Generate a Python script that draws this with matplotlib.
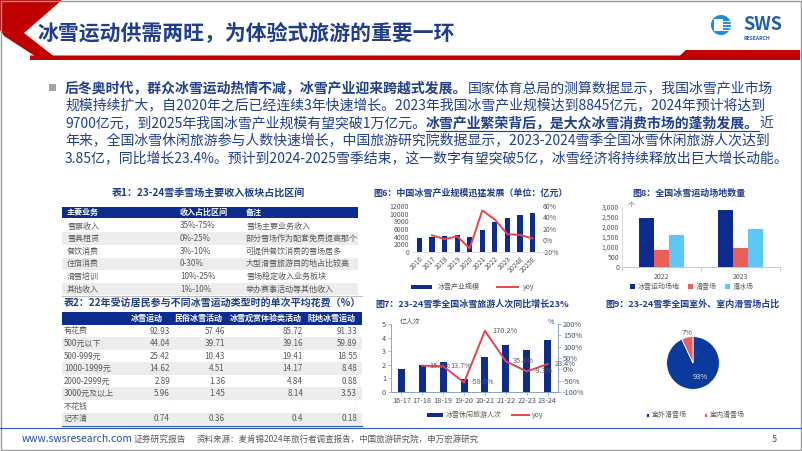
import numpy as np
import matplotlib
matplotlib.use("Agg")
import matplotlib.pyplot as plt
from matplotlib.patches import Rectangle, Polygon, Circle
from matplotlib.ticker import FuncFormatter

plt.rcParams['font.family'] = ['Noto Sans CJK SC', 'DejaVu Sans']

W, H = 802, 451
NAVY = "#0E2C8E"
TITLE_BLUE = "#1F3C8F"
BODY = "#213F8F"
RED = "#C00000"
GRAY = "#595959"
SALMON = "#E8605A"
LIGHTBLUE = "#5CC8F5"
ROWGRAY = "#EDEDED"

# ---- data ----
body_lines = [
    [("后冬奥时代，群众冰雪运动热情不减，冰雪产业迎来跨越式发展。", True, False),
     ("国家体育总局的测算数据显示，我国冰雪产业市场", False, False)],
    [("规模持续扩大，自2020年之后已经连续3年快速增长。2023年我国冰雪产业规模达到8845亿元，2024年预计将达到", False, False)],
    [("9700亿元，到2025年我国冰雪产业规模有望突破1万亿元。", False, False),
     ("冰雪产业繁荣背后，是大众冰雪消费市场的蓬勃发展。", True, True),
     ("近", False, False)],
    [("年来，全国冰雪休闲旅游参与人数快速增长，中国旅游研究院数据显示，2023-2024雪季全国冰雪休闲旅游人次达到", False, False)],
    [("3.85亿，同比增长23.4%。预计到2024-2025雪季结束，这一数字有望突破5亿，冰雪经济将持续释放出巨大增长动能。", False, False)],
]

t1_header = ["主要业务", "收入占比区间", "备注"]
t1_business = ["雪票收入", "雪具租赁", "餐饮消费", "住宿消费", "滑雪培训", "其他收入"]
t1_share = ["35%-75%", "0%-25%", "3%-10%", "0-30%", "10%-25%", "1%-10%"]
t1_note = ["雪场主要业务收入", "部分雪场作为配套免费提高那个", "可提供餐饮消费的雪场居多",
           "大型滑雪旅游目的地占比较高", "雪场稳定收入业务板块", "举办赛事活动等其他收入"]

t2_cols = ["冰雪运动", "民俗冰雪活动", "冰雪观赏体验类活动", "陆地冰雪运动"]
t2_rows = ["有花费", "500元以下", "500-999元", "1000-1999元", "2000-2999元", "3000元及以上", "不花钱", "记不清"]
t2_ice = ["92.93", "44.04", "25.42", "14.62", "2.89", "5.96", "-", "0.74"]
t2_folk = ["57.46", "39.71", "10.43", "4.51", "1.36", "1.45", "-", "0.36"]
t2_view = ["85.72", "39.16", "19.41", "14.17", "4.84", "8.14", "-", "0.4"]
t2_land = ["91.33", "59.89", "18.55", "8.48", "0.88", "3.53", "-", "0.18"]

years6 = ["2016", "2017", "2018", "2019", "2020", "2021", "2022", "2023", "2024E", "2025E"]
scale6 = [3647, 3976, 4050, 4400, 3800, 5788, 7900, 8845, 9700, 10053]
yoy6 = [np.nan, 9.0, 2.5, 7.0, -13.6, 52.3, 36.5, 11.0, 9.7, 3.6]

seasons7 = ["16-17", "17-18", "18-19", "19-20", "20-21", "21-22", "22-23", "23-24"]
visits7 = [1.70, 1.97, 2.24, 0.94, 2.54, 3.44, 3.12, 3.85]
yoy7 = [np.nan, 15.9, 13.7, -58.0, 170.2, 35.4, -9.3, 23.4]

years8 = ["2022", "2023"]
venues8 = [2452, 2847]
ski8 = [870, 930]
skate8 = [1576, 1912]

pie_labels = ["室外滑雪场", "室内滑雪场"]
pie_values = [93, 7]


def box(x0, y0, x1, y1):
    return [x0 / W, 1 - y1 / H, (x1 - x0) / W, (y1 - y0) / H]


fig = plt.figure(figsize=(8.02, 4.51), dpi=100)
bg = fig.add_axes([0, 0, 1, 1])
bg.set_xlim(0, W)
bg.set_ylim(H, 0)
bg.axis('off')
renderer = fig.canvas.get_renderer()

# ---- header ----
bg.add_patch(Polygon([(0, 0), (62, 0), (24, 33), (56, 58), (38, 58), (4, 36), (0, 30)],
                     closed=True, color=RED, lw=0))
bg.add_patch(Polygon([(30, 55.5), (680, 55.5), (686, 50), (800, 50), (800, 60), (30, 60)],
                     closed=True, color=RED, lw=0))
bg.text(37, 33, "冰雪运动供需两旺，为体验式旅游的重要一环", fontsize=15, fontweight='bold',
        color=TITLE_BLUE, va='center', ha='left')
# logo
bg.add_patch(Circle((721, 25), 10, color="#1B8FD6", lw=0))
bg.add_patch(Rectangle((714, 19), 9, 12, color="white", lw=0))
for yy in (21, 24, 27, 30):
    bg.plot([723, 730], [yy, yy], color="white", lw=0.8)
bg.text(743, 25, "SWS", fontsize=13, fontweight='bold', color="#1F5FAD", va='center', ha='left')
bg.text(743, 38, "RESEARCH", fontsize=3.6, fontweight='bold', color="#1F5FAD", va='center', ha='left')

# ---- body text ----
bg.add_patch(Rectangle((49, 84), 7, 7, color="#A6A6A6", lw=0))
line_y = [88, 105.5, 123, 140.5, 158]
for segs, y in zip(body_lines, line_y):
    x = 65
    for txt, bold, ul in segs:
        t = bg.text(x, y, txt, fontsize=10.0, fontweight='bold' if bold else 'normal',
                    color=BODY, va='center', ha='left')
        w = t.get_window_extent(renderer).width
        if ul:
            bg.plot([x, x + w], [y + 8, y + 8], color=BODY, lw=0.8)
        x += w

# ---- table 1 ----
bg.text(208, 193, "表1：23-24雪季雪场主要收入板块占比区间", fontsize=7.2, fontweight='bold',
        color=TITLE_BLUE, va='center', ha='center')
bg.add_patch(Rectangle((62, 207), 296, 10.5, color=NAVY, lw=0))
col_x1 = [67, 180, 246]
for cx, lab in zip(col_x1, t1_header):
    bg.text(cx, 212.3, lab, fontsize=5.8, fontweight='bold', color='white', va='center', ha='left')
pitch = 12.6
for i in range(len(t1_business)):
    yc = 226 + i * pitch
    if i % 2 == 1:
        bg.add_patch(Rectangle((62, yc - pitch / 2), 296, pitch, color=ROWGRAY, lw=0))
    for cx, val in zip(col_x1, (t1_business[i], t1_share[i], t1_note[i])):
        bg.text(cx, yc, val, fontsize=5.8, color=GRAY, va='center', ha='left')
bg.plot([62, 362], [296, 296], color="#BFBFBF", lw=0.8)

# ---- table 2 ----
bg.text(212, 304, "表2：22年受访居民参与不同冰雪运动类型时的单次平均花费（%）", fontsize=7.2,
        fontweight='bold', color=TITLE_BLUE, va='center', ha='center')
bg.add_patch(Rectangle((62, 312), 300, 13, color=NAVY, lw=0))
hdr_right = [163, 223, 302, 356]
val_right = [170, 225, 303, 357]
for cx, lab in zip(hdr_right, t2_cols):
    bg.text(cx, 318.5, lab, fontsize=5.8, fontweight='bold', color='white', va='center', ha='right')
pitch2 = 12.55
for i, rlab in enumerate(t2_rows):
    yc = 331 + i * pitch2
    if i % 2 == 1:
        bg.add_patch(Rectangle((62, yc - pitch2 / 2), 300, pitch2, color=ROWGRAY, lw=0))
    bg.text(64, yc, rlab, fontsize=5.8, color=GRAY, va='center', ha='left')
    for cx, col in zip(val_right, (t2_ice, t2_folk, t2_view, t2_land)):
        v = col[i]
        if v == "-":
            bg.text(cx, yc, "-", fontsize=3.5, color="#BFBFBF", va='center', ha='right')
        else:
            bg.text(cx, yc, v, fontsize=5.8, color=GRAY, va='center', ha='right')
bg.plot([62, 362], [425.5, 425.5], color="#2E5AAC", lw=0.9)

# ---- footer ----
bg.plot([0, 802], [427.5, 427.5], color="#2E5AAC", lw=0.8)
bg.text(22, 439, "www.swsresearch.com", fontsize=7.4, color="#1F4E9E", va='center', ha='left')
bg.text(134, 439, "证券研究报告", fontsize=6.3, color=GRAY, va='center', ha='left')
bg.text(197, 439, "资料来源：麦肯锡2024年旅行者调查报告，中国旅游研究院，申万宏源研究", fontsize=6.1,
        color=GRAY, va='center', ha='left')
bg.text(772, 439, "5", fontsize=6.5, color="#1F4E9E", va='center', ha='left')
bg.add_patch(Rectangle((0.5, 0.5), 800.5, 449.5, fill=False, ec="#9A9A9A", lw=1))

# ---- 图6 ----
bg.text(471, 193, "图6：中国冰雪产业规模迅猛发展（单位：亿元）", fontsize=6.5, fontweight='bold',
        color=TITLE_BLUE, va='center', ha='center')
ax6 = fig.add_axes(box(412, 206, 540, 252))
x6 = np.arange(len(years6))
ax6.bar(x6, scale6, width=0.42, color=NAVY, label="冰雪产业规模")
ax6.set_ylim(0, 12000)
ax6.set_yticks(range(0, 12001, 2000))
ax6.set_xlim(-0.6, len(years6) - 0.4)
ax6.set_xticks(x6)
ax6.set_xticklabels(years6, rotation=45, ha='right', rotation_mode='anchor')
ax6r = ax6.twinx()
ax6r.plot(x6, yoy6, color="#E8444F", lw=1.4, label="yoy")
ax6r.set_ylim(-20, 60)
ax6r.set_yticks(range(-20, 61, 20))
ax6r.yaxis.set_major_formatter(FuncFormatter(lambda v, p: f"{v:.0f}%"))
for a in (ax6, ax6r):
    for s in a.spines.values():
        s.set_visible(False)
    a.tick_params(length=0, labelsize=5, colors=GRAY, pad=2)
ax6.spines['bottom'].set_visible(True)
ax6.spines['bottom'].set_color("#D9D9D9")
ax6.spines['bottom'].set_linewidth(0.6)
h1, l1 = ax6.get_legend_handles_labels()
h2, l2 = ax6r.get_legend_handles_labels()
fig.legend(h1 + h2, l1 + l2, loc='center', bbox_to_anchor=(473 / W, 1 - 287 / H), ncol=2,
           frameon=False, fontsize=5, handlelength=3, handleheight=0.5, columnspacing=2.5,
           labelcolor=GRAY)

# ---- 图8 ----
bg.text(689, 193, "图8：全国冰雪运动场地数量", fontsize=6.5, fontweight='bold',
        color=TITLE_BLUE, va='center', ha='center')
ax8 = fig.add_axes(box(622, 207, 780, 267))
x8 = np.arange(len(years8))
bw = 0.19
ax8.bar(x8 - bw, venues8, width=bw, color=NAVY, label="冰雪运动场地")
ax8.bar(x8, ski8, width=bw, color=SALMON, label="滑雪场")
ax8.bar(x8 + bw, skate8, width=bw, color=LIGHTBLUE, label="滑冰场")
ax8.set_ylim(0, 3000)
ax8.set_yticks(range(0, 3001, 500))
ax8.yaxis.set_major_formatter(FuncFormatter(lambda v, p: f"{v:,.0f}"))
ax8.set_xlim(-0.5, 1.5)
ax8.set_xticks(x8)
ax8.set_xticklabels(years8)
ax8.set_xticks([-0.5, 0.5, 1.5], minor=True)
for s in ('top', 'right'):
    ax8.spines[s].set_visible(False)
ax8.spines['left'].set_color("#D9D9D9")
ax8.spines['bottom'].set_color("#BFBFBF")
ax8.spines['left'].set_linewidth(0.6)
ax8.spines['bottom'].set_linewidth(0.6)
ax8.tick_params(axis='both', which='major', length=0, labelsize=5, colors=GRAY, pad=2)
ax8.tick_params(axis='x', which='minor', length=3, color="#BFBFBF", width=0.6)
ax8.tick_params(axis='x', which='major', pad=4)
bg.text(628, 205, "个", fontsize=5, color=GRAY, va='center', ha='left')
ax8.legend(loc='center', bbox_to_anchor=(692 / W, 1 - 287 / H), bbox_transform=fig.transFigure,
           ncol=3, frameon=False, fontsize=5, handlelength=0.7, handleheight=0.7,
           columnspacing=1.2, handletextpad=0.4, labelcolor=GRAY)

# ---- 图7 ----
bg.text(472, 304, "图7：23-24雪季全国冰雪旅游人次同比增长23%", fontsize=6.5, fontweight='bold',
        color=TITLE_BLUE, va='center', ha='center')
ax7 = fig.add_axes(box(391, 324, 558, 392))
x7 = np.arange(len(seasons7))
ax7.bar(x7, visits7, width=0.33, color=NAVY, label="冰雪休闲旅游人次")
ax7.set_ylim(0, 5)
ax7.set_yticks(range(0, 6))
ax7.set_xlim(-0.5, len(seasons7) - 0.5)
ax7.set_xticks(x7)
ax7.set_xticklabels(seasons7)
ax7r = ax7.twinx()
ax7r.plot(x7, yoy7, color="#E8444F", lw=1.4, label="yoy")
ax7r.set_ylim(-100, 200)
ax7r.set_yticks(range(-100, 201, 50))
ax7r.yaxis.set_major_formatter(FuncFormatter(lambda v, p: f"{v:.0f}%"))
for xi, v in zip(x7, yoy7):
    if not np.isnan(v):
        ax7r.annotate(f"{v:.1f}%", (xi, v), xytext=(5, 0), textcoords='offset points',
                      ha='left', va='center', fontsize=5.3, color=GRAY)
for a in (ax7, ax7r):
    a.spines['top'].set_visible(False)
    for s in ('left', 'right', 'bottom'):
        a.spines[s].set_color("#8EA2C6")
        a.spines[s].set_linewidth(0.6)
    a.tick_params(length=2, width=0.5, color="#8EA2C6", labelsize=5.3, colors="#44546A", pad=1.5)
bg.text(400, 322, "亿人次", fontsize=5, color="#44546A", va='center', ha='left')
bg.text(548, 322, "%", fontsize=5, color="#44546A", va='center', ha='left')
h1, l1 = ax7.get_legend_handles_labels()
h2, l2 = ax7r.get_legend_handles_labels()
fig.legend(h1 + h2, l1 + l2, loc='center', bbox_to_anchor=(485 / W, 1 - 415 / H), ncol=2,
           frameon=False, fontsize=5, handlelength=2.4, handleheight=0.5, columnspacing=1.5,
           handletextpad=0.4, labelcolor=GRAY)

# ---- 图9 ----
bg.text(692, 304, "图9：23-24雪季全国室外、室内滑雪场占比", fontsize=6.5, fontweight='bold',
        color=TITLE_BLUE, va='center', ha='center')
ax9 = fig.add_axes(box(660, 330, 726, 396))
wedges, texts, autotexts = ax9.pie(pie_values, colors=["#0A3A9C", SALMON], startangle=90,
                                   counterclock=False, autopct="%d%%", pctdistance=0.55,
                                   wedgeprops=dict(edgecolor='white', linewidth=0.6),
                                   textprops=dict(fontsize=5.5))
autotexts[0].set_color("#D9E2F3")
autotexts[0].set_position((0.28, -0.52))
autotexts[1].set_color(GRAY)
autotexts[1].set_position((-0.22, 1.15))
ax9.set_aspect('equal')
ax9.legend(wedges, pie_labels, loc='center', bbox_to_anchor=(695 / W, 1 - 415 / H),
           bbox_transform=fig.transFigure, ncol=2, frameon=False, fontsize=5,
           handlelength=0.5, handleheight=0.5, columnspacing=2.5, handletextpad=0.3,
           labelcolor=GRAY)

fig.savefig("out.png", dpi=100)
